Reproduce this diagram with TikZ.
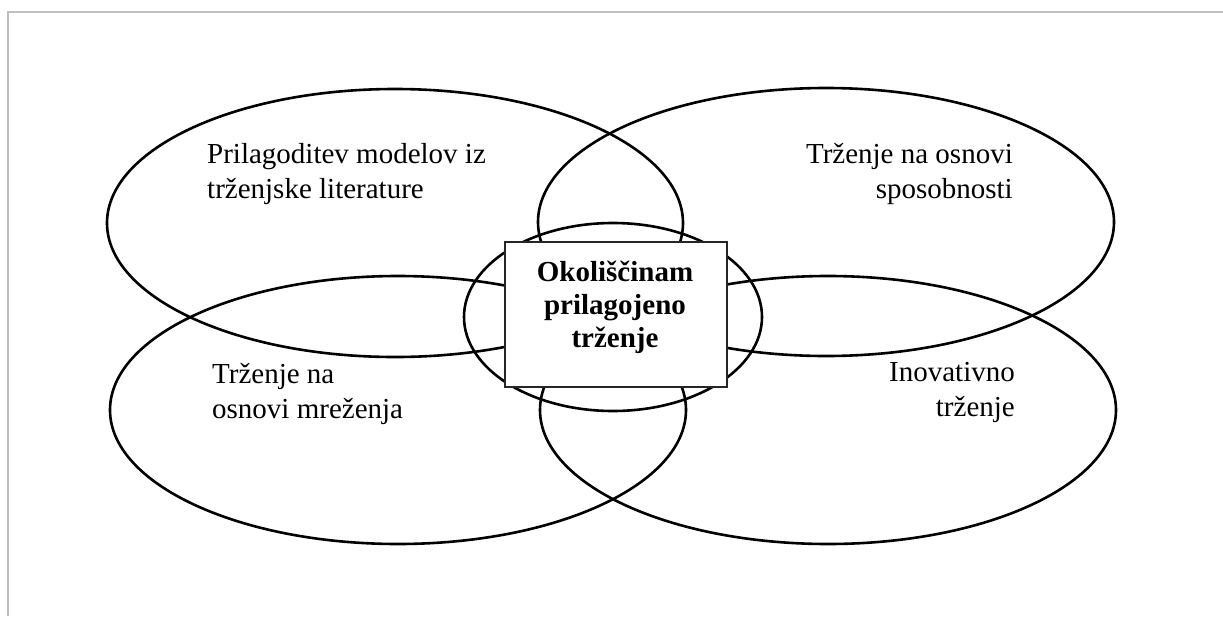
\documentclass[tikz,border=0pt]{standalone}
\usepackage{fontspec}
\setmainfont{Liberation Serif}
\usetikzlibrary{shapes.geometric}
\begin{document}
\begin{tikzpicture}[x=1pt,y=-1pt,
  ell/.style={draw=black, line width=2.6pt, ellipse, inner sep=0pt, minimum width=576pt, minimum height=268pt},
  midell/.style={draw=black, line width=2.6pt, ellipse, inner sep=0pt, minimum width=298pt, minimum height=188pt},
  core/.style={draw=black!85, line width=2.8pt, fill=white, inner sep=0pt, minimum width=222pt, minimum height=145pt},
  lbl/.style={inner sep=0pt, font=\fontsize{29}{35}\selectfont},
  corelbl/.style={inner sep=0pt, align=center, font=\fontsize{29}{33}\selectfont\bfseries}
]
\useasboundingbox (0,0) rectangle (1223,616);
\coordinate (f1) at (8,616);
\coordinate (f2) at (8,12);
\coordinate (f3) at (1223,12);
\draw[line width=2pt, color={rgb,255:red,192;green,192;blue,192}] (f1) -- (f2) -- (f3);

\node[ell] (tl) at (395,223) {};
\node[ell] (tr) at (826,222) {};
\node[ell] (bl) at (398,410) {};
\node[ell] (br) at (828,410) {};
\node[midell] (mid) at (613,317) {};
\node[core] (box) at (616,314.5) {};

\node[lbl, anchor=base west, align=left] (ttl) at (207,198) {Prilagoditev modelov iz\\tr\v{z}enjske literature};
\node[lbl, anchor=base east, align=right] (ttr) at (1013,198) {Tr\v{z}enje na osnovi\\sposobnosti};
\node[lbl, anchor=base west, align=left] (tbl) at (212,418) {Tr\v{z}enje na\\osnovi mre\v{z}enja};
\node[lbl, anchor=base east, align=right] (tbr) at (1015,416) {Inovativno\\tr\v{z}enje};
\node[corelbl, anchor=base] (tbox) at (615,347) {Okoli\v{s}\v{c}inam\\prilagojeno\\tr\v{z}enje};
\end{tikzpicture}
\end{document}
